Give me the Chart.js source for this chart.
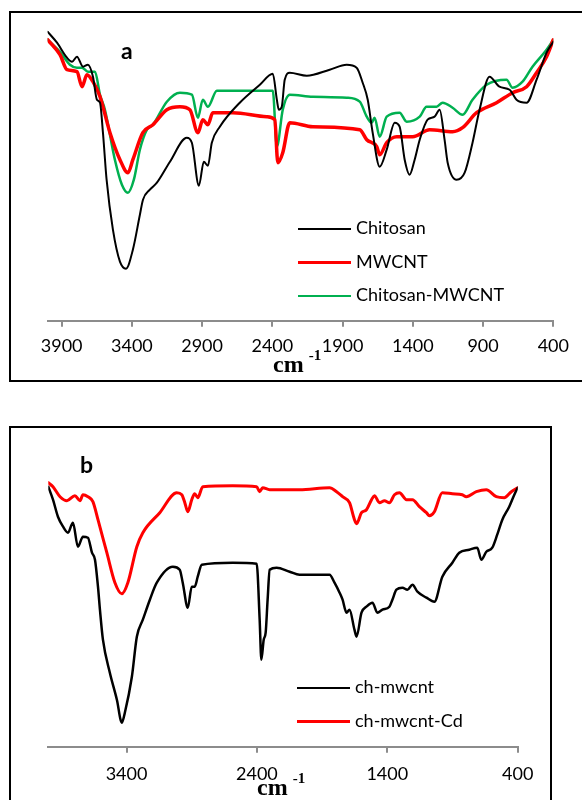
<!DOCTYPE html>
<html>
<head>
<meta charset="utf-8">
<script src="https://cdn.jsdelivr.net/npm/chart.js@4/dist/chart.umd.min.js"></script>
<style>
  body { margin: 0; background: #fff; width: 582px; height: 800px; overflow: hidden; position: relative; font-family: Lato, sans-serif; }
  .box { position: absolute; border: 2px solid #000; box-sizing: border-box; }
  canvas { position: absolute; left: 0; }
  .tag { position: absolute; font: bold 23px Lato, Arial, sans-serif; color: #000; }
  .unit { position: absolute; font: bold 24px "Liberation Serif", "Times New Roman", serif; color: #000; line-height: 1; }
  .unit sup { font-size: 15px; position: relative; top: -3px; margin-left: 5px; }
  .legend { position: absolute; font: 18px Lato, sans-serif; color: #000; }
  .legend div { position: relative; height: 33.5px; line-height: 33.5px; }
  .legend span.sw { display: inline-block; width: 53px; vertical-align: middle; margin-right: 5px; }
</style>
</head>
<body>
<div class="box" style="left:9px; top:11px; width:600px; height:371px;"></div>
<div class="box" style="left:9px; top:426px; width:543px; height:420px;"></div>

<canvas id="chart-a" width="582" height="400" style="top:0"></canvas>
<canvas id="chart-b" width="582" height="380" style="top:420px"></canvas>

<div class="tag" style="left:121px; top:36px;">a</div>
<div class="tag" style="left:80px; top:450px;">b</div>

<div class="unit" style="left:273px; top:351px;">cm<sup>-1</sup></div>
<div class="unit" style="left:257px; top:774px;">cm<sup>-1</sup></div>

<div class="legend" id="legend-a" style="left:298px; top:211px;"></div>
<div class="legend" id="legend-b" style="left:297px; top:670px;"></div>

<script>
// PANEL A - wavenumber (cm-1) and transmittance (arbitrary units)
var wnChitosan = [4000,3933,3862,3826,3791,3748,3713,3677,3649,3627,3606,3580,3535,3485,3442,3393,3343,3321,3272,3222,3129,3009,2973,2923,2888,2859,2831,2774,2632,2489,2397,2368,2354,2333,2312,2276,2155,1992,1871,1800,1757,1721,1686,1636,1586,1529,1494,1458,1423,1387,1351,1295,1245,1209,1174,1152,1088,1031,975,925,854,783,711,662,590,519,448,400];
var tChitosan = [289,278,263,259,264,254,256,244,221,218,188,141,91,59,52,71,106,121,131,138,159,183,178,135,159,155,178,194,218,236,247,221,211,214,241,248,245,251,256,253,238,221,188,154,171,198,194,161,146,161,181,201,204,211,181,158,141,148,178,211,244,234,231,221,218,241,268,279];

var wnMwcnt = [4000,3912,3862,3791,3755,3720,3677,3627,3556,3485,3428,3393,3322,3250,3151,3058,2987,2930,2895,2859,2824,2681,2440,2383,2361,2326,2276,2112,1778,1728,1657,1636,1586,1515,1401,1280,1117,1046,946,804,690,590,519,448,400];
var tMwcnt = [281,266,251,249,234,246,239,224,188,161,148,161,188,196,211,214,211,188,201,196,208,208,204,201,158,168,198,194,191,181,174,166,178,184,184,191,189,193,208,218,228,234,248,264,281];

var wnChMwcnt = [4000,3912,3841,3791,3755,3713,3663,3627,3592,3521,3471,3428,3386,3343,3293,3250,3151,3058,2973,2930,2895,2859,2795,2397,2368,2326,2276,2112,1871,1778,1728,1693,1672,1636,1586,1494,1444,1351,1302,1231,1188,1117,1046,975,875,733,690,619,548,448,400];
var tChMwcnt = [281,269,256,253,253,249,249,226,211,161,136,128,141,171,191,196,219,228,226,203,221,214,230,230,174,211,226,224,223,219,204,198,203,184,204,208,199,204,214,214,218,213,206,221,236,241,233,239,254,271,281];

var ticksA = [3900,3400,2900,2400,1900,1400,900,400];

// PANEL B
var wnB1 = [4000,3964,3926,3887,3849,3811,3773,3734,3696,3665,3642,3619,3604,3581,3528,3474,3436,3413,3359,3321,3275,3221,3168,3045,2992,2969,2930,2900,2877,2854,2823,2586,2402,2379,2366,2348,2333,2318,2302,2249,2149,2073,1843,1805,1766,1743,1713,1690,1652,1636,1598,1560,1514,1476,1437,1384,1361,1330,1284,1246,1207,1169,1100,1039,978,901,848,771,710,679,641,595,557,518,465,426,400];
var tB1 = [260,247,230,220,214,224,200,210,209,194,187,160,137,107,74,47,24,34,70,110,127,147,164,180,177,164,139,160,160,170,182,184,183,127,87,107,114,147,177,179,175,172,172,164,154,147,134,137,117,110,134,140,144,134,137,140,147,157,159,157,162,155,149,145,170,184,194,197,199,187,195,199,212,227,240,252,259];

var wnB2 = [4000,3964,3910,3857,3796,3757,3734,3696,3658,3619,3551,3489,3436,3390,3321,3275,3145,3015,2976,2953,2930,2900,2877,2854,2815,2586,2402,2379,2356,2302,2073,1843,1789,1743,1690,1652,1636,1598,1560,1521,1499,1460,1422,1384,1345,1307,1253,1207,1154,1100,1077,1039,978,901,825,794,717,641,564,503,449,400];
var tB2 = [264,260,250,246,251,246,252,250,245,227,194,164,153,164,200,214,234,254,252,244,235,247,253,249,260,261,260,255,259,257,257,259,255,250,244,227,223,234,237,247,251,244,246,244,252,254,247,247,240,234,231,235,254,253,252,250,255,257,250,249,255,259];

var ticksB = [3400,2400,1400,400];

Chart.defaults.font.family = 'Lato, sans-serif';

var toPoints = function (xs, ys) {
    return xs.map(function (x, i) { return { x: x, y: ys[i] }; });
};

var makeSeries = function (label, xs, ys, color, width) {
    return {
        label: label,
        data: toPoints(xs, ys),
        borderColor: color,
        backgroundColor: color,
        borderWidth: width,
        pointRadius: 0,
        fill: false,
        cubicInterpolationMode: 'monotone',
        borderJoinStyle: 'round',
        borderCapStyle: 'round'
    };
};

var makeChart = function (id, datasets, ticks, pad, tickPad) {
    var ctx = document.getElementById(id).getContext('2d');
    return new Chart(ctx, {
        type: 'line',
        data: { datasets: datasets },
        options: {
            responsive: false,
            animation: false,
            devicePixelRatio: 1,
            layout: { padding: pad },
            plugins: { legend: { display: false }, tooltip: { enabled: false } },
            scales: {
                x: {
                    type: 'linear',
                    reverse: true,
                    min: 400,
                    max: 4000,
                    afterBuildTicks: function (scale) {
                        scale.ticks = ticks.map(function (v) { return { value: v }; });
                    },
                    afterFit: function (scale) { scale.height = 40; },
                    border: { display: true, color: '#8c8c8c', width: 2 },
                    grid: { drawOnChartArea: false, drawTicks: true, tickLength: 6, color: '#8c8c8c', lineWidth: 2 },
                    ticks: {
                        color: '#000',
                        padding: tickPad,
                        maxRotation: 0,
                        autoSkip: false,
                        font: { size: 18 },
                        callback: function (value) { return String(value); }
                    }
                },
                y: { display: false, min: 0, max: 300 }
            }
        }
    });
};

var buildLegend = function (id, chart) {
    var box = document.getElementById(id);
    chart.data.datasets.forEach(function (ds) {
        var row = document.createElement('div');
        var sw = document.createElement('span');
        sw.className = 'sw';
        sw.style.borderTop = ds.borderWidth + 'px solid ' + ds.borderColor;
        row.appendChild(sw);
        row.appendChild(document.createTextNode(ds.label));
        box.appendChild(row);
    });
};

var chartA = makeChart('chart-a', [
    makeSeries('Chitosan', wnChitosan, tChitosan, '#000000', 2),
    makeSeries('MWCNT', wnMwcnt, tMwcnt, '#ff0000', 3.5),
    makeSeries('Chitosan-MWCNT', wnChMwcnt, tChMwcnt, '#00b050', 2.5)
], ticksA, { left: 47.6, right: 28.7, top: 20.7, bottom: 39.3 }, 9);

var chartB = makeChart('chart-b', [
    makeSeries('ch-mwcnt', wnB1, tB1, '#000000', 2.5),
    makeSeries('ch-mwcnt-Cd', wnB2, tB2, '#ff0000', 3)
], ticksB, { left: 48.3, right: 64.3, top: 26.7, bottom: 13.3 }, 11);

buildLegend('legend-a', chartA);
buildLegend('legend-b', chartB);
</script>
</body>
</html>
